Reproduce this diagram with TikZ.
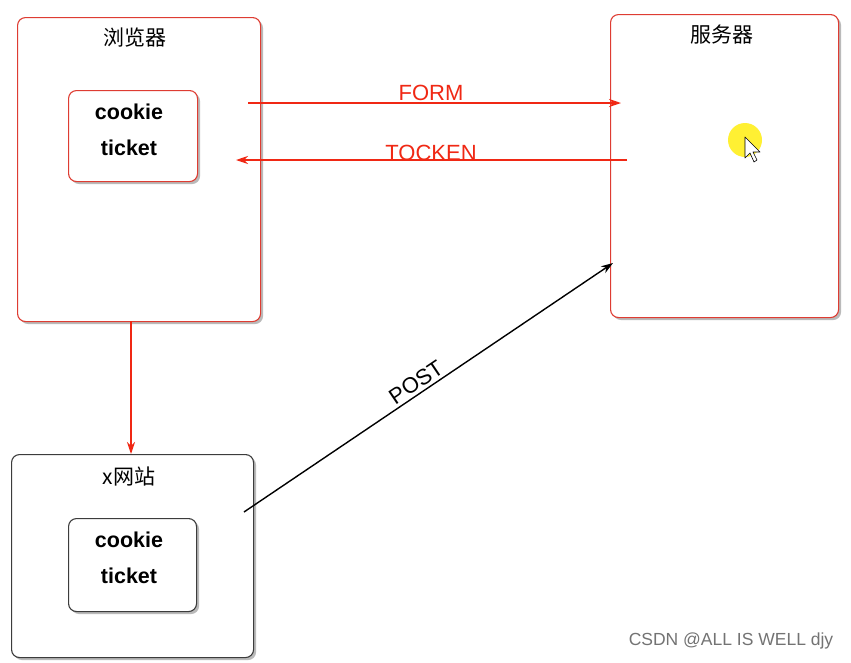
\documentclass[tikz,border=0pt]{standalone}
\usepackage{fontspec}
\setmainfont{Liberation Sans}
\newfontfamily\cjk{Noto Sans CJK SC}
\usetikzlibrary{arrows.meta,shadows}
\definecolor{boxred}{RGB}{222,60,50}
\definecolor{arrred}{RGB}{240,40,20}
\definecolor{boxgray}{RGB}{60,60,60}
\begin{document}
\begin{tikzpicture}[x=1pt,y=-1pt,
  bigbox/.style={draw=boxred,line width=1.1pt,fill=white,rounded corners=8pt,anchor=north west,inner sep=0pt,
     drop shadow={shadow xshift=2.5pt,shadow yshift=-2.5pt,fill=black!45,opacity=0.6}},
  graybox/.style={bigbox,draw=boxgray},
  title/.style={font=\cjk\fontsize{21}{24}\selectfont,inner sep=0pt},
  inner/.style={font=\bfseries\fontsize{21.5}{24}\selectfont,inner sep=0pt},
  lbl/.style={font=\fontsize{22}{24}\selectfont,text=arrred,inner sep=0pt},
  redarr/.style={draw=arrred,line width=1.6pt,-{Stealth[length=12pt,width=8pt]}},
  blackarr/.style={draw=black,line width=1.4pt,-{Stealth[length=12pt,width=8pt]}}
]
\useasboundingbox[fill=white] (0,0) rectangle (851,662);
% boxes
\node[bigbox,minimum width=243pt,minimum height=304pt] (browser) at (17,17) {};
\node[bigbox,minimum width=228pt,minimum height=303pt] (server) at (610,14) {};
\node[graybox,minimum width=242pt,minimum height=203pt] (site) at (11,454) {};
\node[bigbox,minimum width=129pt,minimum height=91pt] (bin) at (68,90) {};
\node[graybox,minimum width=128pt,minimum height=93pt] (sin) at (68,518) {};
% titles
\node[title] (bt) at (135,38) {浏览器};
\node[title] (st) at (722,35) {服务器};
\node[title] (xt) at (129,476) {x网站};
% inner texts
\node[inner] (c1) at (129,112) {cookie};
\node[inner] (t1) at (129,148) {ticket};
\node[inner] (c2) at (129,540) {cookie};
\node[inner] (t2) at (129,576) {ticket};
% arrow coordinates
\coordinate (f1) at (248,103);
\coordinate (f2) at (621,103);
\coordinate (k1) at (627,160);
\coordinate (k2) at (236,160);
\coordinate (d1) at (131,321);
\coordinate (d2) at (131,454);
\coordinate (p1) at (244,512);
\coordinate (p2) at (613,263);
\draw[redarr] (f1) -- (f2);
\draw[redarr] (k1) -- (k2);
\draw[redarr] (d1) -- (d2);
\draw[blackarr] (p1) -- (p2);
\node[lbl] (form) at (431,93) {FORM};
\node[lbl] (tocken) at (431,153) {TOCKEN};
\node[font=\fontsize{22}{24}\selectfont,inner sep=0pt,rotate=34] (post) at (416,382) {POST};
% cursor highlight
\fill[yellow!95!orange,opacity=0.8] (745,140) circle (17);
\draw[fill=white,line width=0.6pt,line join=round] (745,137) -- (745,158) -- (750,153) -- (754,162) -- (757,160) -- (753,152) -- (760,152) -- cycle;
% watermark
\node[font=\fontsize{17.5}{20}\selectfont,text=black!55,inner sep=0pt] (wm) at (731,641) {CSDN @ALL IS WELL djy};
\end{tikzpicture}
\end{document}
